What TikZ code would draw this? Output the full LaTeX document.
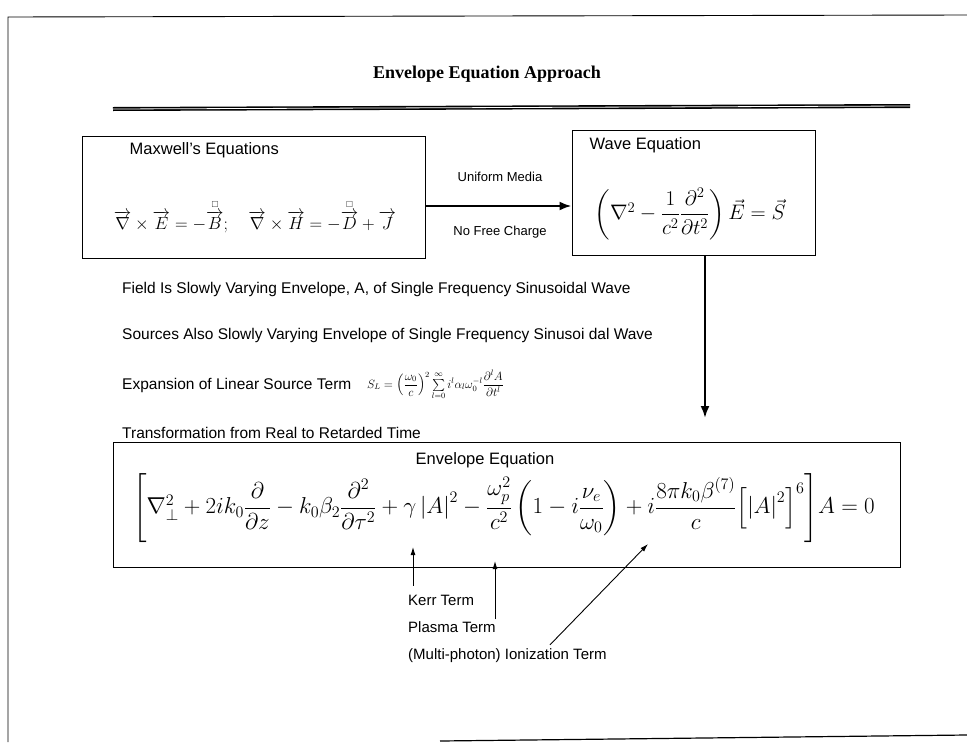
\RequirePackage{fix-cm}
\documentclass[tikz,border=0pt]{standalone}
\usepackage{amsmath,amssymb}
\usepackage{fontspec}
\setmainfont{Liberation Serif}
\setsansfont{Liberation Sans}
\usetikzlibrary{arrows.meta,positioning}

\begin{document}
\begin{tikzpicture}[
  x=1pt,y=1pt,
  box/.style={draw,line width=1pt,inner sep=0pt},
  heading/.style={font=\fontsize{16.5}{19}\sffamily,inner sep=0pt},
  note/.style={font=\fontsize{15.5}{18}\sffamily,anchor=west,inner sep=0pt},
  tag/.style={font=\fontsize{13}{15}\sffamily,inner sep=0pt},
  term/.style={font=\fontsize{15}{17}\sffamily,anchor=west,inner sep=0pt},
  eqn/.style={font=\fontsize{17.5}{23}\selectfont,inner sep=0pt},
  arrow/.style={-{Latex[length=12pt,width=9pt]},line width=2.2pt},
  pointer/.style={-{Latex[length=8pt,width=5pt]},line width=0.9pt}
]
  \useasboundingbox (0,0) rectangle (967,-742);
  % page frame
  \draw[line width=0.9pt] (967,-15) -- (8,-17) -- (8,-742);
  \draw[line width=1.2pt] (440,-741) -- (967,-735);

  \node[font=\fontsize{18}{21}\bfseries] (title) at (487,-74) {Envelope Equation Approach};
  \draw[double,double distance=0.8pt,line width=1.6pt] (113,-109) -- (910,-106);

  % top row
  \node[box,minimum width=343pt,minimum height=122pt] (maxwell) at (253.5,-197) {};
  \node[box,minimum width=243pt,minimum height=125pt] (waveeq) at (693.5,-192.5) {};
  \node[heading,below right=7pt and 48pt of maxwell.north west] (maxtitle) {Maxwell's Equations};
  \node[eqn] (maxeq) at (255,-216)
    {$\overrightarrow{\nabla}\times\overrightarrow{E}=-\overset{\scriptscriptstyle\square}{\overrightarrow{B}};\quad
      \overrightarrow{\nabla}\times\overrightarrow{H}=-\overset{\scriptscriptstyle\square}{\overrightarrow{D}}+\overrightarrow{J}$};
  \node[heading,below right=8pt and 18pt of waveeq.north west] (wavetitle) {Wave Equation};
  \node[eqn,font=\fontsize{21}{25}\selectfont] (wave) at (690,-214)
    {$\left(\nabla^2-\dfrac{1}{c^2}\dfrac{\partial^2}{\partial t^2}\right)\vec{E}=\vec{S}$};
  \node[tag] (uniform) at (500,-177) {Uniform Media};
  \node[tag] (nocharge) at (500,-232) {No Free Charge};
  \draw[arrow] ([yshift=-9pt]maxwell.east) -- ([yshift=-9pt]maxwell.east -| waveeq.west);

  % assumptions
  \node[note] (field) at (122,-289) {Field Is Slowly Varying Envelope, A, of Single Frequency Sinusoidal Wave};
  \node[note] (sources) at (122,-335) {Sources Also Slowly Varying Envelope of Single Frequency Sinusoi dal Wave};
  \node[note] (expansion) at (122,-385) {Expansion of Linear Source Term};
  \node[font=\fontsize{12}{15}\selectfont,right=12pt of expansion] (source)
    {$S_L=\left(\dfrac{\omega_0}{c}\right)^{2}\sum\limits_{l=0}^{\infty}i^l\alpha_l\omega_0^{-l}\dfrac{\partial^l A}{\partial t^l}$};
  \node[note] (retarded) at (122,-433) {Transformation from Real to Retarded Time};

  \coordinate (dropend) at (705,-418);
  \draw[arrow] (waveeq.south -| dropend) -- (dropend);

  % envelope equation
  \node[box,minimum width=787pt,minimum height=125pt] (envelope) at (506.5,-504.5) {};
  \node[heading] (envtitle) at (485,-460) {Envelope Equation};
  \node[font=\fontsize{23}{26}\selectfont,inner sep=0pt] (enveq) at (504,-508)
    {$\Biggl[\nabla_\perp^2+2ik_0\dfrac{\partial}{\partial z}-k_0\beta_2\dfrac{\partial^2}{\partial\tau^2}+\gamma\left|A\right|^2
      -\dfrac{\omega_p^2}{c^2}\left(1-i\dfrac{\nu_e}{\omega_0}\right)+i\dfrac{8\pi k_0\beta^{(7)}}{c}\Bigl[\left|A\right|^2\Bigr]^6\Biggr]A=0$};

  % term labels
  \node[term] (kerr) at (408,-600) {Kerr Term};
  \node[term] (plasma) at (408,-627) {Plasma Term};
  \node[term] (ionization) at (408,-656) {(Multi-photon) Ionization Term};
  \coordinate (kerrtip) at (413,-547);
  \coordinate (plasmatip) at (495,-561);
  \coordinate (iontip) at (648,-544);
  \draw[pointer] ([yshift=9pt]kerr.north -| kerrtip) -- (kerrtip);
  \draw[pointer] ([yshift=2pt]plasma.north -| plasmatip) -- (plasmatip);
  \draw[pointer] ([xshift=142pt,yshift=4pt]ionization.north west) -- (iontip);
\end{tikzpicture}
\end{document}
